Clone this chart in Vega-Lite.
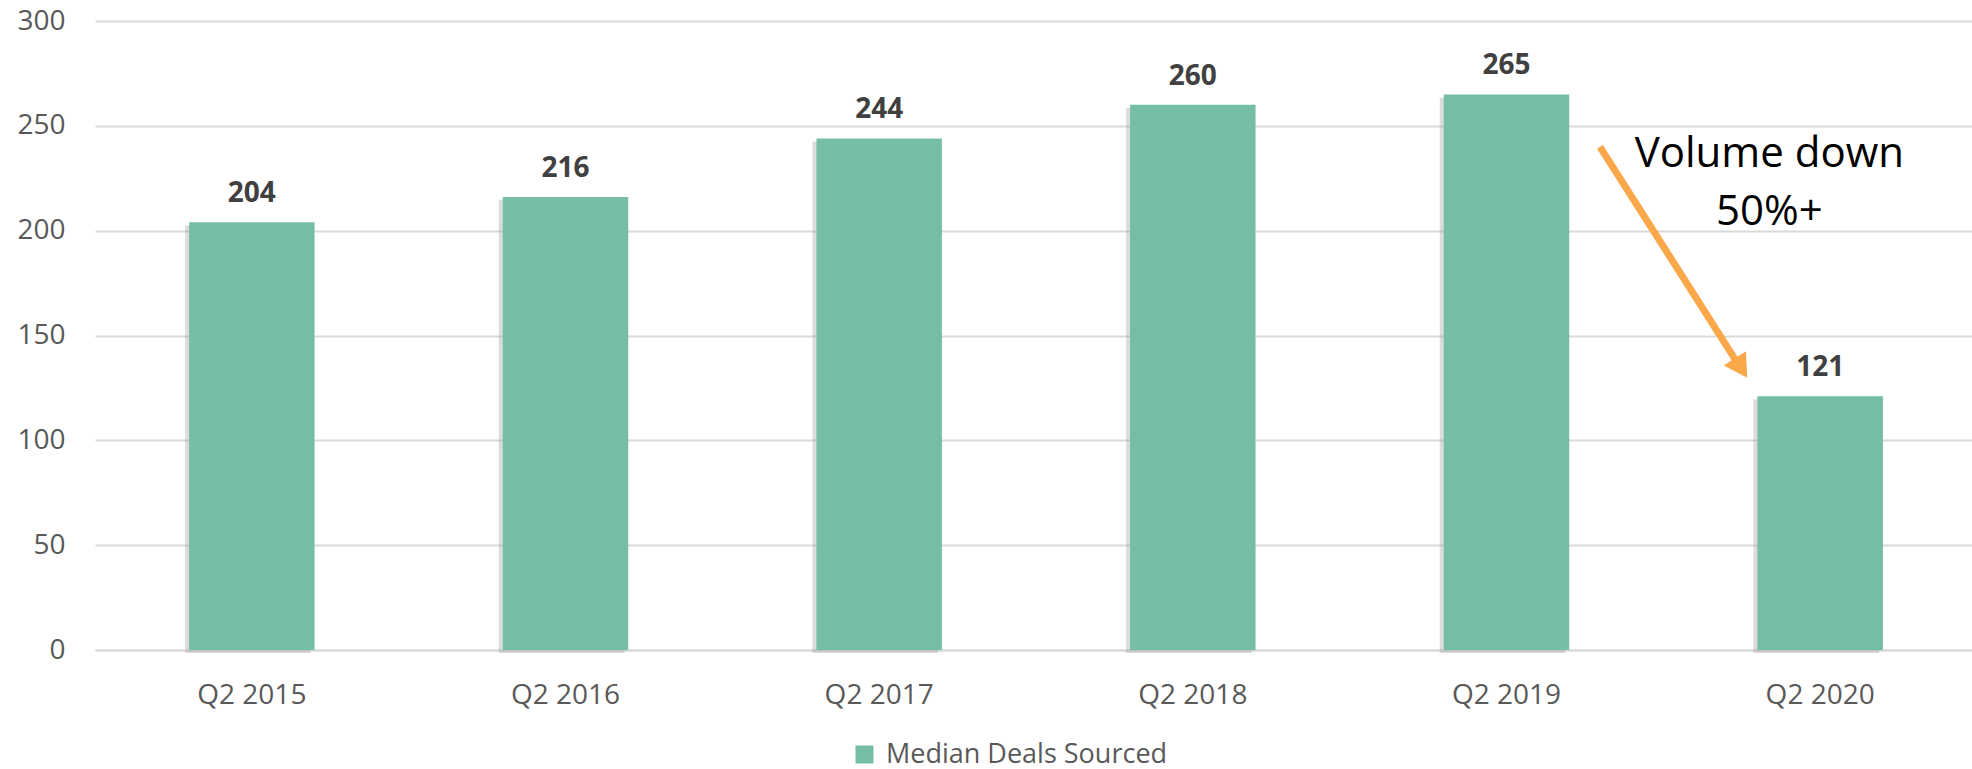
{
  "$schema": "https://vega.github.io/schema/vega-lite/v6.json",
  "width": 1882,
  "height": 629,
  "autosize": {"type": "none"},
  "padding": {"left": 95, "top": 21, "right": 0, "bottom": 119},
  "background": "white",
  "config": {"view": {"stroke": null}, "font": "Open Sans"},
  "layer": [
    {
      "data": {"values": [
        {"quarter": "Q2 2015", "deals": 204},
        {"quarter": "Q2 2016", "deals": 216},
        {"quarter": "Q2 2017", "deals": 244},
        {"quarter": "Q2 2018", "deals": 260},
        {"quarter": "Q2 2019", "deals": 265},
        {"quarter": "Q2 2020", "deals": 121}
      ]},
      "encoding": {
        "x": {"field": "quarter", "type": "nominal", "sort": null, "title": null,
          "scale": {"paddingInner": 0.6, "paddingOuter": 0.3},
          "axis": {"labelAngle": 0, "labelFontSize": 28, "labelColor": "#595959", "labelFont": "Open Sans",
            "ticks": false, "tickSize": 0, "labelPadding": 53, "labelBaseline": "alphabetic",
            "domainColor": "#d9d9d9", "domainWidth": 2, "grid": false}},
        "y": {"field": "deals", "type": "quantitative", "title": null,
          "scale": {"domain": [0, 300], "nice": false},
          "axis": {"values": [0, 50, 100, 150, 200, 250, 300], "labelFontSize": 28, "labelColor": "#595959", "labelFont": "Open Sans",
            "ticks": false, "tickSize": 0, "labelPadding": 30, "domain": false,
            "gridColor": "#d9d9d9", "gridWidth": 2}}
      },
      "layer": [
        {"mark": {"type": "bar", "color": "#8c8c8c", "opacity": 0.3, "xOffset": -4, "yOffset": 3}},
        {"mark": {"type": "bar"},
         "encoding": {"color": {"datum": "Median Deals Sourced", "type": "nominal",
           "scale": {"range": ["#75BDA7"]},
           "legend": {"title": null, "orient": "none", "legendX": 756, "legendY": 720, "padding": 0,
             "symbolType": "square", "symbolSize": 324, "symbolStrokeWidth": 0, "labelFontSize": 27,
             "labelColor": "#595959", "labelFont": "Open Sans", "labelOffset": 8, "labelLimit": 0}}}},
        {"mark": {"type": "text", "baseline": "alphabetic", "dy": -20, "fontSize": 28, "fontWeight": "bold", "color": "#404040", "font": "Open Sans"},
         "encoding": {"text": {"field": "deals", "type": "quantitative"}}}
      ]
    },
    {
      "data": {"values": [
        {"ax": 4.798, "ay": 240, "bx": 5.236, "by": 137, "hx": 5.241, "hy": 136, "tx": 5.338, "ty": 230.5, "label": ["Volume down", "50%+"]}
      ]},
      "layer": [
        {"mark": {"type": "rule", "color": "#FAA84A", "strokeWidth": 7},
         "encoding": {
           "x": {"field": "ax", "type": "quantitative", "scale": {"domain": [0, 6], "nice": false, "zero": false}, "axis": null},
           "y": {"field": "ay", "type": "quantitative", "title": null},
           "x2": {"field": "bx"},
           "y2": {"field": "by"}}},
        {"mark": {"type": "point", "shape": "triangle", "filled": true, "color": "#FAA84A", "opacity": 1, "size": 700, "angle": 147.5},
         "encoding": {
           "x": {"field": "hx", "type": "quantitative", "scale": {"domain": [0, 6], "nice": false, "zero": false}, "axis": null},
           "y": {"field": "hy", "type": "quantitative", "title": null}}},
        {"mark": {"type": "text", "baseline": "alphabetic", "align": "center", "fontSize": 42, "color": "#000000", "font": "Open Sans", "lineHeight": 58},
         "encoding": {
           "x": {"field": "tx", "type": "quantitative", "scale": {"domain": [0, 6], "nice": false, "zero": false}, "axis": null},
           "y": {"field": "ty", "type": "quantitative", "title": null},
           "text": {"field": "label"}}}
      ]
    }
  ],
  "resolve": {"scale": {"x": "independent"}}
}
